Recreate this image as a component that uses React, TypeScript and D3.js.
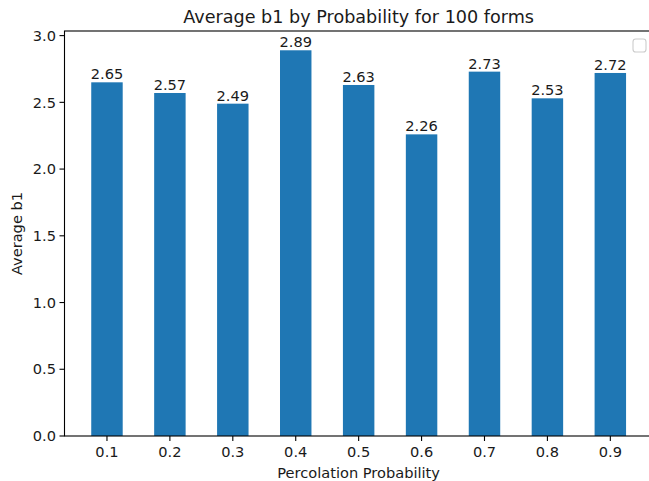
import React from "react";
import * as d3 from "d3";

const categories = ["0.1", "0.2", "0.3", "0.4", "0.5", "0.6", "0.7", "0.8", "0.9"];
const values = [2.65, 2.57, 2.49, 2.89, 2.63, 2.26, 2.73, 2.53, 2.72];
const yTicks = [0, 0.5, 1.0, 1.5, 2.0, 2.5, 3.0];

const W = 649;
const H = 481;
const left = 64.5;
const right = 652.8;
const top = 31;
const bottom = 436;
const FONT = "DejaVu Sans, sans-serif";
const FS = 14.6;
const TC = "#1a1a1a";

export default function App() {
  const x = d3.scaleLinear().domain([-0.675, categories.length - 1 + 0.675]).range([left, right]);
  const yMax = d3.max(values)! * 1.05;
  const y = d3.scaleLinear().domain([0, yMax]).range([bottom, top]);
  const bw = x(0.5) - x(0);
  return (
    <svg width={W} height={H} style={{ position: "absolute", left: 0, top: 0, background: "#fff" }} fontFamily={FONT}>
      <rect x={0} y={0} width={W} height={H} fill="#fff" />
      {values.map((v, i) => (
        <g key={i}>
          <rect x={x(i) - bw / 2} y={y(v)} width={bw} height={y(0) - y(v)} fill="#1f77b4" />
          <text x={x(i)} y={y(v) - 3} textAnchor="middle" fontSize={FS} fill={TC}>
            {v.toFixed(2)}
          </text>
        </g>
      ))}
      <rect x={left} y={top} width={right - left} height={bottom - top} fill="none" stroke="#000" strokeWidth={1.1} />
      {yTicks.map((t) => (
        <g key={t}>
          <line x1={left - 5} x2={left} y1={y(t)} y2={y(t)} stroke="#000" strokeWidth={1.1} />
          <text x={left - 8.5} y={y(t) + 5.2} textAnchor="end" fontSize={FS} fill={TC}>
            {t.toFixed(1)}
          </text>
        </g>
      ))}
      {categories.map((c, i) => (
        <g key={c}>
          <line x1={x(i)} x2={x(i)} y1={bottom} y2={bottom + 5} stroke="#000" strokeWidth={1.1} />
          <text x={x(i)} y={bottom + 20.5} textAnchor="middle" fontSize={FS} fill={TC}>
            {c}
          </text>
        </g>
      ))}
      <text x={(left + right) / 2} y={bottom + 42} textAnchor="middle" fontSize={FS} fill={TC}>
        Percolation Probability
      </text>
      <text
        transform={`translate(22, ${(top + bottom) / 2}) rotate(-90)`}
        textAnchor="middle"
        fontSize={FS}
        fill={TC}
      >
        Average b1
      </text>
      <text x={(left + right) / 2} y={top - 8} textAnchor="middle" fontSize={17.6} fill={TC}>
        Average b1 by Probability for 100 forms
      </text>
      <rect x={633} y={39} width={13} height={13} rx={2.8} fill="#fff" stroke="#cccccc" strokeWidth={1.1} />
    </svg>
  );
}
